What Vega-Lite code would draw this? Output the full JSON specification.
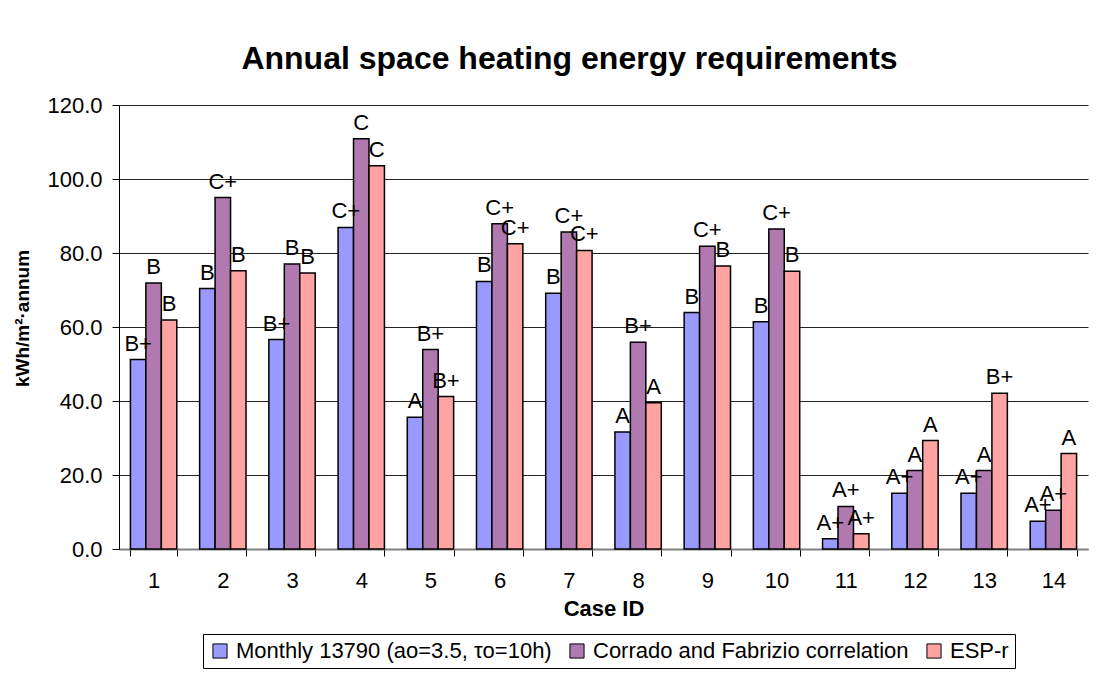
{
  "$schema": "https://vega.github.io/schema/vega-lite/v6.json",
  "width": 969,
  "height": 444,
  "autosize": {"type": "none"},
  "padding": {"left": 119, "top": 105, "right": 16, "bottom": 131},
  "background": "white",
  "config": {"font": "Liberation Sans", "view": {"stroke": null}},
  "title": {
    "text": "Annual space heating energy requirements",
    "fontSize": 32,
    "fontWeight": "bold",
    "color": "black",
    "anchor": "middle",
    "frame": "group",
    "dx": -34,
    "offset": 18
  },
  "data": {
    "values": [
      {"case": 1, "series": "Monthly 13790 (ao=3.5, τo=10h)", "value": 51.2, "grade": "B+"},
      {"case": 1, "series": "Corrado and Fabrizio correlation", "value": 71.9, "grade": "B"},
      {"case": 1, "series": "ESP-r", "value": 61.9, "grade": "B"},
      {"case": 2, "series": "Monthly 13790 (ao=3.5, τo=10h)", "value": 70.4, "grade": "B"},
      {"case": 2, "series": "Corrado and Fabrizio correlation", "value": 95.0, "grade": "C+"},
      {"case": 2, "series": "ESP-r", "value": 75.2, "grade": "B"},
      {"case": 3, "series": "Monthly 13790 (ao=3.5, τo=10h)", "value": 56.6, "grade": "B+"},
      {"case": 3, "series": "Corrado and Fabrizio correlation", "value": 77.0, "grade": "B"},
      {"case": 3, "series": "ESP-r", "value": 74.6, "grade": "B"},
      {"case": 4, "series": "Monthly 13790 (ao=3.5, τo=10h)", "value": 86.9, "grade": "C+"},
      {"case": 4, "series": "Corrado and Fabrizio correlation", "value": 110.9, "grade": "C"},
      {"case": 4, "series": "ESP-r", "value": 103.6, "grade": "C"},
      {"case": 5, "series": "Monthly 13790 (ao=3.5, τo=10h)", "value": 35.6, "grade": "A"},
      {"case": 5, "series": "Corrado and Fabrizio correlation", "value": 53.9, "grade": "B+"},
      {"case": 5, "series": "ESP-r", "value": 41.2, "grade": "B+"},
      {"case": 6, "series": "Monthly 13790 (ao=3.5, τo=10h)", "value": 72.3, "grade": "B"},
      {"case": 6, "series": "Corrado and Fabrizio correlation", "value": 87.9, "grade": "C+"},
      {"case": 6, "series": "ESP-r", "value": 82.5, "grade": "C+"},
      {"case": 7, "series": "Monthly 13790 (ao=3.5, τo=10h)", "value": 69.1, "grade": "B"},
      {"case": 7, "series": "Corrado and Fabrizio correlation", "value": 85.7, "grade": "C+"},
      {"case": 7, "series": "ESP-r", "value": 80.7, "grade": "C+"},
      {"case": 8, "series": "Monthly 13790 (ao=3.5, τo=10h)", "value": 31.6, "grade": "A"},
      {"case": 8, "series": "Corrado and Fabrizio correlation", "value": 55.9, "grade": "B+"},
      {"case": 8, "series": "ESP-r", "value": 39.5, "grade": "A"},
      {"case": 9, "series": "Monthly 13790 (ao=3.5, τo=10h)", "value": 63.9, "grade": "B"},
      {"case": 9, "series": "Corrado and Fabrizio correlation", "value": 81.8, "grade": "C+"},
      {"case": 9, "series": "ESP-r", "value": 76.5, "grade": "B"},
      {"case": 10, "series": "Monthly 13790 (ao=3.5, τo=10h)", "value": 61.4, "grade": "B"},
      {"case": 10, "series": "Corrado and Fabrizio correlation", "value": 86.5, "grade": "C+"},
      {"case": 10, "series": "ESP-r", "value": 75.1, "grade": "B"},
      {"case": 11, "series": "Monthly 13790 (ao=3.5, τo=10h)", "value": 2.8, "grade": "A+"},
      {"case": 11, "series": "Corrado and Fabrizio correlation", "value": 11.5, "grade": "A+"},
      {"case": 11, "series": "ESP-r", "value": 4.1, "grade": "A+"},
      {"case": 12, "series": "Monthly 13790 (ao=3.5, τo=10h)", "value": 15.1, "grade": "A+"},
      {"case": 12, "series": "Corrado and Fabrizio correlation", "value": 21.2, "grade": "A"},
      {"case": 12, "series": "ESP-r", "value": 29.3, "grade": "A"},
      {"case": 13, "series": "Monthly 13790 (ao=3.5, τo=10h)", "value": 15.1, "grade": "A+"},
      {"case": 13, "series": "Corrado and Fabrizio correlation", "value": 21.2, "grade": "A"},
      {"case": 13, "series": "ESP-r", "value": 42.1, "grade": "B+"},
      {"case": 14, "series": "Monthly 13790 (ao=3.5, τo=10h)", "value": 7.5, "grade": "A+"},
      {"case": 14, "series": "Corrado and Fabrizio correlation", "value": 10.5, "grade": "A+"},
      {"case": 14, "series": "ESP-r", "value": 25.8, "grade": "A"}
    ]
  },
  "encoding": {
    "x": {
      "field": "case",
      "type": "ordinal",
      "scale": {"paddingInner": 0.33, "paddingOuter": 0.165},
      "axis": {
        "title": "Case ID",
        "titleFontSize": 22,
        "titleFontWeight": "bold",
        "titleColor": "black",
        "titlePadding": 7,
        "labelAngle": 0,
        "labelFontSize": 22,
        "labelColor": "black",
        "labelPadding": 14,
        "tickBand": "extent",
        "tickSize": 7,
        "tickColor": "black",
        "domainColor": "#808080",
        "domainWidth": 2,
        "grid": false
      }
    },
    "xOffset": {
      "field": "series",
      "type": "nominal",
      "sort": ["Monthly 13790 (ao=3.5, τo=10h)", "Corrado and Fabrizio correlation", "ESP-r"],
      "scale": {"paddingInner": 0, "paddingOuter": 0}
    },
    "y": {
      "field": "value",
      "type": "quantitative",
      "scale": {"domain": [0, 120], "nice": false},
      "axis": {
        "title": "kWh/m²·annum",
        "titleFontSize": 19,
        "titleFontWeight": "bold",
        "titleColor": "black",
        "titleX": -97,
        "titleY": 213,
        "titleAngle": 270,
        "titleAlign": "center",
        "titleBaseline": "middle",
        "values": [0, 20, 40, 60, 80, 100, 120],
        "format": ".1f",
        "labelFontSize": 22,
        "labelColor": "black",
        "labelPadding": 10,
        "tickSize": 7,
        "tickColor": "black",
        "domainColor": "black",
        "grid": true,
        "gridColor": "#222222",
        "gridWidth": 1
      }
    }
  },
  "layer": [
    {
      "mark": {"type": "bar", "stroke": "black", "strokeWidth": 1.5},
      "encoding": {
        "fill": {
          "field": "series",
          "type": "nominal",
          "sort": ["Monthly 13790 (ao=3.5, τo=10h)", "Corrado and Fabrizio correlation", "ESP-r"],
          "scale": {
            "domain": ["Monthly 13790 (ao=3.5, τo=10h)", "Corrado and Fabrizio correlation", "ESP-r"],
            "range": ["#9999ff", "#b07ab0", "#ffa3a3"]
          },
          "legend": {
            "title": null,
            "orient": "none",
            "legendX": 84,
            "legendY": 529,
            "direction": "horizontal",
            "columns": 3,
            "labelFontSize": 22,
            "labelColor": "black",
            "labelLimit": 0,
            "symbolType": "square",
            "symbolSize": 200,
            "symbolStrokeColor": "black",
            "symbolStrokeWidth": 1,
            "labelOffset": 5,
            "columnPadding": 14,
            "padding": 6,
            "strokeColor": "black",
            "fillColor": "white"
          }
        }
      }
    },
    {
      "mark": {"type": "text", "fontSize": 22, "dy": -9, "baseline": "alphabetic", "color": "black"},
      "encoding": {"text": {"field": "grade", "type": "nominal"}}
    }
  ]
}
